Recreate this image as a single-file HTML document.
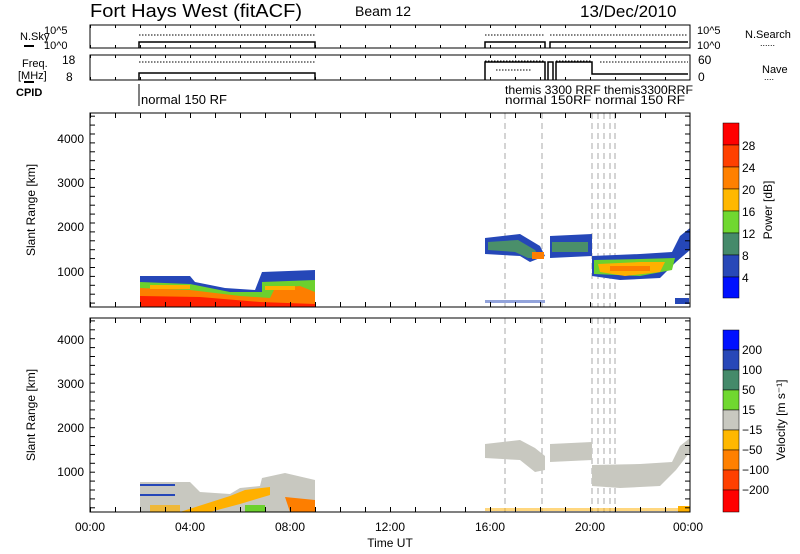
<!DOCTYPE html>
<html><head><meta charset="utf-8"><style>
body{margin:0;background:#fff;}
svg{display:block;font-family:"Liberation Sans",sans-serif;}
</style></head><body>
<svg width="800" height="554" viewBox="0 0 800 554" xmlns="http://www.w3.org/2000/svg">
<defs>
<pattern id="xt" x="90" y="0" width="25" height="554" patternUnits="userSpaceOnUse"><line x1="0.5" y1="0" x2="0.5" y2="554" stroke="#000"/></pattern>
<pattern id="yt" x="0" y="0" width="10" height="8.9" patternUnits="userSpaceOnUse"><line x1="0" y1="0.5" x2="10" y2="0.5" stroke="#000"/></pattern>
</defs>
<rect width="800" height="554" fill="#fff"/>
<text x="90" y="17" font-size="18" textLength="212" lengthAdjust="spacingAndGlyphs">Fort Hays West (fitACF)</text>
<text x="355" y="16" font-size="14">Beam 12</text>
<text x="580" y="17" font-size="17">13/Dec/2010</text>

<!-- N.Sky panel -->
<rect x="90" y="25" width="600" height="23" fill="none" stroke="#000"/>
<rect x="90" y="25" width="600" height="3" fill="url(#xt)"/>
<rect x="90" y="45" width="600" height="3" fill="url(#xt)"/>
<text x="20" y="40" font-size="11">N.Sky</text><line x1="24" y1="46" x2="34" y2="46" stroke="#000" stroke-width="2"/>
<text x="44" y="34" font-size="11">10^5</text><text x="44" y="49" font-size="11">10^0</text>
<text x="697" y="34" font-size="11">10^5</text><text x="697" y="49" font-size="11">10^0</text>
<text x="745" y="38" font-size="11">N.Search</text><text x="760" y="46" font-size="9">......</text>
<path d="M139,48 V42 H315 V48 M485,48 V42 H545 V48 M550,48 V42 H688" fill="none" stroke="#000" stroke-width="1.5"/>
<path d="M139,35 H315 M485,35 H545 M550,35 H688" fill="none" stroke="#000" stroke-dasharray="1.5,1.5"/>

<!-- Freq panel -->
<rect x="90" y="55" width="600" height="25" fill="none" stroke="#000"/>
<rect x="90" y="55" width="600" height="3" fill="url(#xt)"/>
<rect x="90" y="77" width="600" height="3" fill="url(#xt)"/>
<text x="22" y="67" font-size="11">Freq.</text><text x="18" y="79" font-size="11">[MHz]</text><line x1="24" y1="82" x2="34" y2="82" stroke="#000" stroke-width="2"/>
<text x="62" y="64" font-size="12">18</text><text x="66" y="81" font-size="12">8</text>
<text x="698" y="64" font-size="12">60</text><text x="698" y="81" font-size="12">0</text>
<text x="762" y="73" font-size="11">Nave</text><text x="764" y="80" font-size="9">....</text>
<path d="M139,80 V73 H315 V80 M485,80 V62 H545 V80 M548,80 V62 H553 V80 M556,80 V62 H592 V74 H688" fill="none" stroke="#000" stroke-width="1.5"/>
<path d="M139,62 H315 M485,61 H545 M496,70 H532 M556,61 H592 M600,62 H688" fill="none" stroke="#000" stroke-dasharray="1.5,1.5"/>

<text x="16" y="96" font-size="11" font-weight="bold">CPID</text>
<line x1="139" y1="84" x2="139" y2="106" stroke="#000"/>
<text x="141" y="104" font-size="13">normal 150 RF</text>
<text x="505" y="94" font-size="12" textLength="188" lengthAdjust="spacingAndGlyphs">themis 3300 RRF themis3300RRF</text>
<text x="505" y="104" font-size="12" textLength="180" lengthAdjust="spacingAndGlyphs">normal 150RF normal 150 RF</text>

<!-- Power panel -->
<g stroke="#aaa" stroke-dasharray="6,4"><line x1="505" y1="113" x2="505" y2="307"/><line x1="542" y1="113" x2="542" y2="307"/><line x1="592" y1="113" x2="592" y2="307"/><line x1="598" y1="113" x2="598" y2="307"/><line x1="604" y1="113" x2="604" y2="307"/><line x1="610" y1="113" x2="610" y2="307"/><line x1="615" y1="113" x2="615" y2="307"/></g>
<g>
<polygon points="140,276 190,276 195,282 225,288 255,290 262,272 315,270 315,307 140,307" fill="#2547b8"/>
<polygon points="140,282 190,284 230,292 262,292 262,282 315,280 315,307 140,307" fill="#6cd12e"/>
<polygon points="140,288 190,290 240,296 270,298 275,288 300,286 315,292 315,307 140,307" fill="#fd7e00"/>
<polygon points="140,296 200,297 260,302 315,304 315,307 140,307" fill="#ff2000"/>
<rect x="150" y="285" width="40" height="4" fill="#ffb000"/>
<rect x="265" y="286" width="30" height="4" fill="#ffb000"/>
<polygon points="485,238 520,234 530,240 540,246 545,256 530,262 520,256 485,254" fill="#2547b8"/>
<polygon points="488,242 518,240 535,250 540,258 528,258 515,252 488,250" fill="#4a8f6a"/>
<rect x="532" y="252" width="12" height="7" fill="#fd7e00"/>
<polygon points="550,236 592,234 592,256 550,258" fill="#2547b8"/>
<rect x="552" y="242" width="36" height="10" fill="#4a8f6a"/>
<polygon points="592,256 640,254 672,252 680,236 690,228 690,250 676,262 660,278 620,280 592,276" fill="#2547b8"/>
<polygon points="594,260 640,259 675,258 672,270 640,276 594,274" fill="#6cd12e"/>
<polygon points="598,264 640,262 665,262 660,272 625,276 600,272" fill="#ffb000"/>
<rect x="610" y="266" width="40" height="5" fill="#fd7e00"/>
<rect x="675" y="298" width="14" height="6" fill="#2547b8"/>
<rect x="485" y="300" width="60" height="3" fill="#2547b8" opacity="0.5"/>
</g>
<rect x="90" y="113" width="600" height="194" fill="none" stroke="#000"/>
<rect x="90" y="113" width="5" height="194" fill="url(#yt)"/>
<rect x="685" y="113" width="5" height="194" fill="url(#yt)"/>
<rect x="90" y="113" width="600" height="5" fill="url(#xt)"/>
<rect x="90" y="302" width="600" height="5" fill="url(#xt)"/>
<g font-size="12" text-anchor="end"><text x="84" y="276">1000</text><text x="84" y="231">2000</text><text x="84" y="187">3000</text><text x="84" y="143">4000</text></g>
<text transform="translate(35,210) rotate(-90)" font-size="12" text-anchor="middle">Slant Range [km]</text>

<!-- Velocity panel -->
<g stroke="#aaa" stroke-dasharray="6,4"><line x1="505" y1="318" x2="505" y2="512"/><line x1="542" y1="318" x2="542" y2="512"/><line x1="592" y1="318" x2="592" y2="512"/><line x1="598" y1="318" x2="598" y2="512"/><line x1="604" y1="318" x2="604" y2="512"/><line x1="610" y1="318" x2="610" y2="512"/><line x1="615" y1="318" x2="615" y2="512"/></g>
<polygon points="140,482 190,482 200,492 230,494 240,488 260,486 262,478 285,473 315,480 315,512 140,512" fill="#c8c8c0"/>
<polygon points="230,496 245,490 270,487 270,495 240,504 210,512 180,512" fill="#ffb000"/>
<polygon points="285,497 315,500 315,512 290,512" fill="#fd7e00"/>
<rect x="245" y="505" width="20" height="7" fill="#6cd12e"/>
<rect x="150" y="505" width="30" height="7" fill="#ffb000" opacity="0.7"/>
<rect x="140" y="484" width="35" height="2" fill="#2547b8"/>
<rect x="140" y="494" width="35" height="2" fill="#2547b8"/>
<polygon points="485,444 520,440 535,448 545,456 545,470 535,472 520,460 485,458" fill="#c8c8c0"/>
<polygon points="550,444 592,442 592,460 550,462" fill="#c8c8c0"/>
<polygon points="592,465 640,464 672,462 680,446 690,438 690,452 676,470 660,486 620,488 592,486" fill="#c8c8c0"/>
<rect x="678" y="506" width="12" height="6" fill="#ffb000"/>
<rect x="485" y="508" width="195" height="3" fill="#ffb000" opacity="0.5"/>
<rect x="90" y="318" width="600" height="194" fill="none" stroke="#000"/>
<rect x="90" y="318" width="5" height="194" fill="url(#yt)"/>
<rect x="685" y="318" width="5" height="194" fill="url(#yt)"/>
<rect x="90" y="318" width="600" height="5" fill="url(#xt)"/>
<rect x="90" y="507" width="600" height="5" fill="url(#xt)"/>
<g font-size="12" text-anchor="end"><text x="84" y="476">1000</text><text x="84" y="432">2000</text><text x="84" y="388">3000</text><text x="84" y="344">4000</text></g>
<text transform="translate(35,415) rotate(-90)" font-size="12" text-anchor="middle">Slant Range [km]</text>

<!-- x labels -->
<g font-size="12" text-anchor="middle"><text x="90" y="531">00:00</text><text x="190" y="531">04:00</text><text x="290" y="531">08:00</text><text x="390" y="531">12:00</text><text x="490" y="531">16:00</text><text x="590" y="531">20:00</text><text x="688" y="531">00:00</text></g>
<text x="390" y="547" font-size="12" text-anchor="middle">Time UT</text>

<!-- Power colorbar -->
<g stroke="#000" stroke-width="0.5">
<rect x="723" y="123" width="16" height="22" fill="#ff0000"/>
<rect x="723" y="145" width="16" height="22" fill="#ff4000"/>
<rect x="723" y="167" width="16" height="22" fill="#ff8000"/>
<rect x="723" y="189" width="16" height="22" fill="#ffb800"/>
<rect x="723" y="211" width="16" height="22" fill="#70d830"/>
<rect x="723" y="233" width="16" height="22" fill="#458a6a"/>
<rect x="723" y="255" width="16" height="22" fill="#2848b8"/>
<rect x="723" y="277" width="16" height="21" fill="#0010ff"/>
</g>
<g font-size="12"><text x="742" y="150">28</text><text x="742" y="172">24</text><text x="742" y="194">20</text><text x="742" y="216">16</text><text x="742" y="238">12</text><text x="742" y="260">8</text><text x="742" y="282">4</text></g>
<text transform="translate(772,210) rotate(-90)" font-size="12" text-anchor="middle">Power [dB]</text>

<!-- Velocity colorbar -->
<g stroke="#000" stroke-width="0.5">
<rect x="723" y="330" width="16" height="20" fill="#0010ff"/>
<rect x="723" y="350" width="16" height="20" fill="#2848b8"/>
<rect x="723" y="370" width="16" height="20" fill="#458a6a"/>
<rect x="723" y="390" width="16" height="20" fill="#70d830"/>
<rect x="723" y="410" width="16" height="20" fill="#c8c8c0"/>
<rect x="723" y="430" width="16" height="20" fill="#ffb800"/>
<rect x="723" y="450" width="16" height="20" fill="#ff8000"/>
<rect x="723" y="470" width="16" height="20" fill="#ff4000"/>
<rect x="723" y="490" width="16" height="22" fill="#ff0000"/>
</g>
<g font-size="12"><text x="742" y="354">200</text><text x="742" y="374">100</text><text x="742" y="394">50</text><text x="742" y="414">15</text><text x="742" y="434">−15</text><text x="742" y="454">−50</text><text x="742" y="474">−100</text><text x="742" y="494">−200</text></g>
<text transform="translate(785,420) rotate(-90)" font-size="12" text-anchor="middle">Velocity [m s⁻¹]</text>
</svg>
</body></html>
